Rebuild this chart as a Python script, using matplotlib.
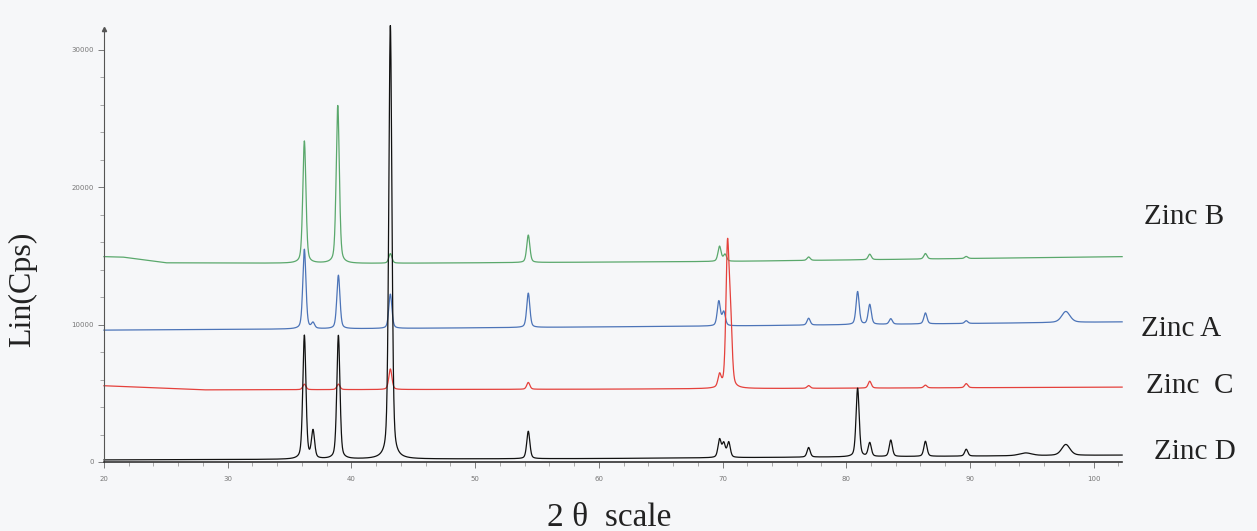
import numpy as np
import matplotlib
matplotlib.use("Agg")
import matplotlib.pyplot as plt
from matplotlib.ticker import MultipleLocator, FixedLocator

# 2-theta range of the scan
two_theta = np.linspace(20, 102.3, 6000)

# Peak positions (degrees 2-theta) and heights above baseline (cps)
zinc_b_pos = [36.2, 38.9, 43.15, 54.3, 69.76, 70.2, 76.96, 81.9, 86.4, 89.7]
zinc_b_hgt = [8900, 11500, 700, 2000, 1100, 500, 250, 400, 400, 150]
zinc_b_base_x = [20, 21.5, 25, 40, 70, 102.3]
zinc_b_base_y = [14950, 14920, 14500, 14450, 14600, 14950]

zinc_a_pos = [36.2, 36.9, 38.95, 43.15, 54.3, 69.7, 70.1, 76.96, 80.92, 81.9, 83.6, 86.4, 89.7, 97.75]
zinc_a_hgt = [5800, 400, 3900, 2500, 2500, 1800, 1000, 500, 2400, 1450, 400, 800, 200, 800]
zinc_a_base_x = [20, 40, 70, 102.3]
zinc_a_base_y = [9600, 9700, 9900, 10200]

zinc_c_pos = [36.2, 38.95, 43.15, 54.3, 69.76, 70.4, 70.65, 76.96, 81.9, 86.4, 89.7]
zinc_c_hgt = [400, 400, 1500, 500, 900, 10000, 4500, 200, 500, 200, 300]
zinc_c_base_x = [20, 28, 60, 102.3]
zinc_c_base_y = [5550, 5250, 5300, 5450]

zinc_d_pos = [36.2, 36.9, 38.95, 43.15, 54.3, 69.76, 70.1, 70.5, 76.96, 80.92, 81.9, 83.6, 86.4, 89.7, 94.5, 97.75]
zinc_d_hgt = [9000, 2000, 9000, 31600, 2000, 1300, 1000, 1100, 700, 5000, 1000, 1200, 1100, 500, 200, 800]
zinc_d_base_x = [20, 60, 102.3]
zinc_d_base_y = [150, 250, 500]

broad_peaks = {97.75: 0.8, 94.5: 1.2}


def pattern(pos, hgt, bx, by):
    y = np.interp(two_theta, bx, by)
    for p, h in zip(pos, hgt):
        w = broad_peaks.get(p, 0.3)
        g = np.exp(-4 * np.log(2) * ((two_theta - p) / w) ** 2)
        l = 1.0 / (1.0 + 4 * ((two_theta - p) / w) ** 2)
        y = y + h * (0.6 * g + 0.4 * l)
    return y


fig = plt.figure(figsize=(12.57, 5.31), dpi=100, facecolor="#f6f7f9")
ax = fig.add_axes([0.0827, 0.130, 0.8100, 0.8277])
ax.set_facecolor("none")

series = [
    (zinc_b_pos, zinc_b_hgt, zinc_b_base_x, zinc_b_base_y, "#5aa86c"),
    (zinc_a_pos, zinc_a_hgt, zinc_a_base_x, zinc_a_base_y, "#4c74b8"),
    (zinc_c_pos, zinc_c_hgt, zinc_c_base_x, zinc_c_base_y, "#e5413c"),
    (zinc_d_pos, zinc_d_hgt, zinc_d_base_x, zinc_d_base_y, "#111111"),
]
for pos, hgt, bx, by, col in series:
    ax.plot(two_theta, pattern(pos, hgt, bx, by), color=col, lw=0.9, clip_on=False)

ax.set_xlim(20, 102.3)
ax.set_ylim(0, 32000)

for s in ("top", "right"):
    ax.spines[s].set_visible(False)
ax.spines["left"].set_bounds(0, 31500)
ax.spines["left"].set_color("#555555")
ax.spines["bottom"].set_color("#333333")
ax.spines["left"].set_linewidth(0.8)
ax.spines["bottom"].set_linewidth(1.2)
ax.plot([20], [31500], marker="^", ms=3, color="#555555", clip_on=False)

ax.xaxis.set_major_locator(MultipleLocator(10))
ax.xaxis.set_minor_locator(MultipleLocator(2))
ax.yaxis.set_major_locator(FixedLocator([0, 10000, 20000, 30000]))
ax.yaxis.set_minor_locator(FixedLocator(np.arange(0, 30001, 2000)))
ax.tick_params(axis="both", which="major", labelsize=5, labelcolor="#777777",
               color="#666666", length=4, width=0.6)
ax.tick_params(axis="both", which="minor", color="#888888", length=3, width=0.5)
ax.tick_params(axis="x", pad=6)

serif = ["Liberation Serif", "DejaVu Serif"]
fig.text(0.018, 0.455, "Lin(Cps)", rotation=90, ha="center", va="center",
         fontsize=23, family=serif, color="#222222")
fig.text(0.485, 0.025, "2 θ  scale", ha="center", va="center",
         fontsize=24, family=serif, color="#222222")

for txt, xf, yf in [("Zinc B", 0.910, 0.591), ("Zinc A", 0.908, 0.381),
                    ("Zinc  C", 0.912, 0.273), ("Zinc D", 0.918, 0.148)]:
    fig.text(xf, yf, txt, ha="left", va="center", fontsize=21, family=serif,
             color="#222222")

fig.savefig("out.png", dpi=100, facecolor=fig.get_facecolor())
